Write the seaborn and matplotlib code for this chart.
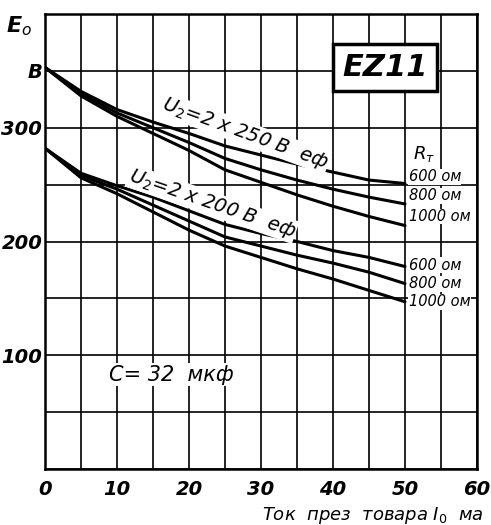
import matplotlib
matplotlib.use("Agg")
import matplotlib.pyplot as plt
import seaborn as sns
import pandas as pd

# ---- data ----
current_ma = [0, 5, 10, 15, 20, 25, 30, 35, 40, 45, 50]
u250_600 = [353, 332, 316, 305, 295, 284, 276, 268, 261, 254, 251]
u250_800 = [353, 330, 313, 300, 287, 273, 263, 254, 246, 239, 233]
u250_1000 = [353, 328, 310, 295, 280, 263, 252, 241, 231, 222, 214]
u200_600 = [282, 260, 249, 239, 227, 215, 207, 200, 192, 186, 178]
u200_800 = [282, 258, 246, 232, 218, 204, 196, 188, 181, 173, 163]
u200_1000 = [282, 256, 242, 226, 210, 196, 186, 176, 167, 157, 147]

x_ticks = [0, 10, 20, 30, 40, 50, 60]
y_ticks = [0, 50, 100, 150, 200, 250, 300, 350, 400]
y_tick_labels = ["", "", "100", "", "200", "", "300", "В", ""]
r_labels = ["600 ом", "800 ом", "1000 ом"]

series = {
    ("2x250", "600"): u250_600, ("2x250", "800"): u250_800, ("2x250", "1000"): u250_1000,
    ("2x200", "600"): u200_600, ("2x200", "800"): u200_800, ("2x200", "1000"): u200_1000,
}
rows = []
for (u, r), vals in series.items():
    for xv, yv in zip(current_ma, vals):
        rows.append({"I0": xv, "E0": yv, "curve": f"{u}_{r}"})
df = pd.DataFrame(rows)

sns.set_theme(style="white")
FONT = ["DejaVu Sans"]
plt.rcParams["font.family"] = FONT
plt.rcParams["text.color"] = "black"
plt.rcParams["xtick.color"] = "black"
plt.rcParams["ytick.color"] = "black"

fig = plt.figure(figsize=(4.91, 5.25), dpi=100)
ax = fig.add_axes([45/491, 1-469/525, 432/491, 455/525])

for name, g in df.groupby("curve", sort=False):
    sns.lineplot(data=g, x="I0", y="E0", ax=ax, color="black", lw=2.2, legend=False)

ax.set_xlim(0, 60)
ax.set_ylim(0, 400)
for xv in range(0, 61, 5):
    ax.axvline(xv, color="black", lw=1.2, zorder=0)
for yv in range(0, 401, 50):
    ax.axhline(yv, color="black", lw=1.2, zorder=0)
for s in ax.spines.values():
    s.set_color("black")
    s.set_linewidth(1.8)

tfont = dict(family=FONT, style="italic", weight="bold")
ax.set_xticks(x_ticks)
ax.set_xticklabels([str(v) for v in x_ticks], fontsize=14, **tfont)
ax.set_yticks(y_ticks)
ax.set_yticklabels(y_tick_labels, fontsize=14, **tfont)
ax.tick_params(axis="y", length=0, pad=2)
ax.tick_params(axis="x", length=0, pad=8)
ax.set_xlabel("")
ax.set_ylabel("")

ax.text(-3.6, 389, "E$_{o}$", fontsize=16, ha="center", va="center", clip_on=False, **tfont)
ax.text(61, -41, "Ток  през  товара I$_{0}$  ма", fontsize=13, ha="right", va="center",
        clip_on=False, family=FONT, style="italic")

# EZ11 box
ax.text(47.2, 353, "EZ11", fontsize=22, ha="center", va="center", **tfont,
        bbox=dict(boxstyle="square,pad=0.3", fc="white", ec="black", lw=2.5))

ax.text(27.8, 295, "U$_{2}$=2 x 250 В  еф", fontsize=14, rotation=-20, ha="center", va="center",
        family=FONT, style="italic", bbox=dict(fc="white", ec="none", pad=0.5))
ax.text(23.2, 233, "U$_{2}$=2 x 200 В  еф", fontsize=14, rotation=-19, ha="center", va="center",
        family=FONT, style="italic", bbox=dict(fc="white", ec="none", pad=0.5))

ax.text(52.6, 277, "R$_{т}$", fontsize=13, ha="center", va="center", family=FONT, style="italic",
        bbox=dict(fc="white", ec="none", pad=0.3))
for yv, lab in zip([257, 240, 222], r_labels):
    ax.text(50.5, yv, lab, fontsize=10.5, ha="left", va="center", family=FONT, style="italic",
            bbox=dict(fc="white", ec="none", pad=0.3))
for yv, lab in zip([179, 163, 147], r_labels):
    ax.text(50.5, yv, lab, fontsize=10.5, ha="left", va="center", family=FONT, style="italic",
            bbox=dict(fc="white", ec="none", pad=0.3))

ax.text(17.6, 83, "C= 32  мкф", fontsize=15, ha="center", va="center", family=FONT, style="italic",
        bbox=dict(fc="white", ec="none", pad=1))

fig.savefig("out.png", dpi=100, facecolor="white")
